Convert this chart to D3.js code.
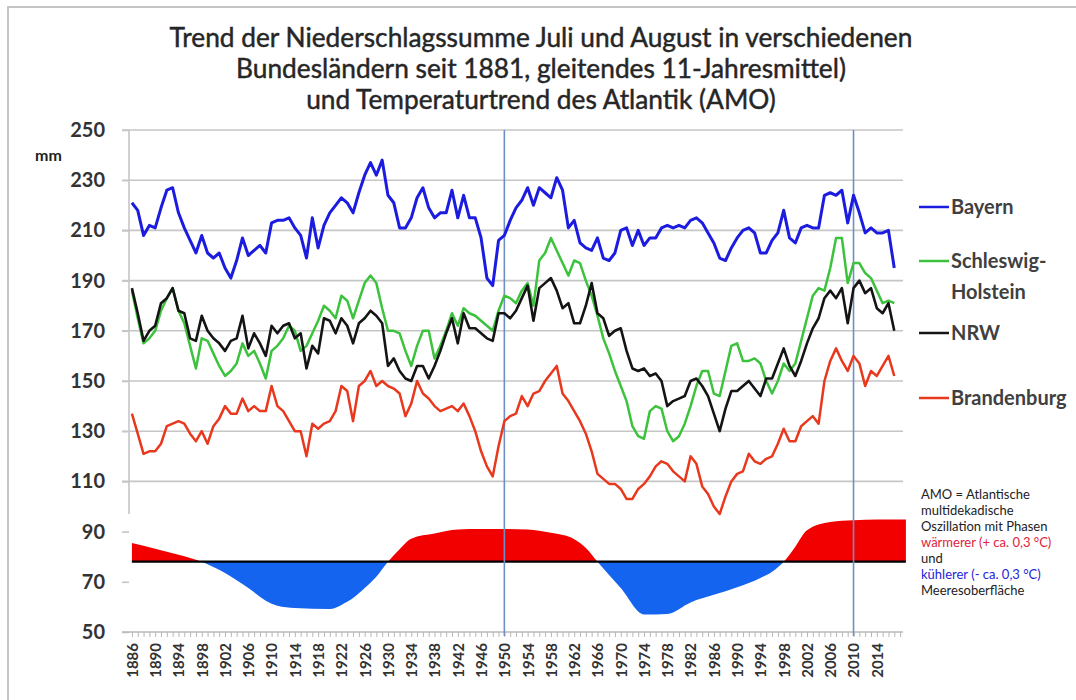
<!DOCTYPE html>
<html>
<head>
<meta charset="utf-8">
<script src="https://cdn.jsdelivr.net/npm/d3@7"></script>
<style>
  body { margin: 0; background: #fff; }
  svg { display: block; font-family: Lato, "Open Sans", sans-serif; }
</style>
</head>
<body>
<div id="container"></div>
<script>
/* ---------- DATA ---------- */
const years = d3.range(1886, 2018);

const bayern = [
  221, 218, 208, 212, 211, 219, 226, 227, 217, 211,
  206, 201, 208, 201, 199, 201, 195, 191, 198, 207,
  200, 202, 204, 201, 213, 214, 214, 215, 211, 208,
  199, 215, 203, 212, 217, 220, 223, 221, 217, 225,
  232, 237, 232, 238, 224, 221, 211, 211, 215, 223,
  227, 219, 215, 217, 217, 226, 215, 224, 215, 215,
  207, 191, 188, 206, 208, 214, 219, 222, 227, 220,
  227, 225, 223, 231, 226, 211, 214, 205, 203, 202,
  207, 199, 198, 201, 210, 211, 204, 210, 204, 207,
  207, 211, 212, 211, 212, 211, 214, 215, 213, 209,
  205, 199, 198, 203, 207, 210, 211, 209, 201, 201,
  206, 209, 218, 207, 205, 211, 212, 211, 211, 224,
  225, 224, 226, 213, 224, 217, 209, 211, 209, 209,
  210, 195
];

const schleswigHolstein = [
  186, 175, 165, 167, 170, 178, 183, 187, 178, 173,
  164, 155, 167, 166, 161, 156, 152, 154, 157, 165,
  160, 162, 157, 151, 162, 164, 167, 172, 170, 162,
  164, 169, 174, 180, 178, 175, 184, 182, 175, 182,
  189, 192, 189, 179, 170, 170, 169, 162, 156, 164,
  170, 170, 159, 164, 170, 177, 172, 179, 177, 176,
  174, 172, 170, 178, 184, 183, 181, 186, 189, 180,
  198, 201, 207, 202, 197, 192, 198, 197, 190, 184,
  176, 167, 161, 154, 148, 142, 132, 128, 127, 138,
  140, 139, 130, 126, 128, 133, 140, 148, 154, 154,
  145, 144, 154, 164, 165, 158, 158, 159, 157, 150,
  145, 150, 157, 154, 157, 166, 175, 184, 187, 186,
  195, 207, 207, 189, 197, 197, 193, 191, 186, 181,
  182, 181
];

const nrw = [
  187, 177, 166, 170, 172, 181, 183, 187, 178, 177,
  167, 166, 176, 170, 167, 165, 162, 166, 167, 176,
  163, 169, 165, 160, 172, 169, 172, 173, 167, 169,
  155, 164, 161, 175, 174, 169, 175, 172, 165, 173,
  175, 178, 176, 173, 156, 159, 154, 151, 150, 156,
  156, 151, 156, 162, 169, 175, 165, 177, 171, 171,
  169, 167, 166, 177, 177, 175, 178, 183, 188, 174,
  187, 189, 191, 186, 179, 181, 173, 173, 180, 189,
  177, 175, 168, 170, 171, 162, 155, 154, 155, 152,
  153, 150, 140, 142, 143, 144, 150, 151, 148, 144,
  137, 130, 139, 146, 146, 148, 150, 147, 144, 151,
  151, 157, 163, 156, 152, 158, 165, 171, 175, 183,
  186, 183, 187, 173, 187, 190, 185, 187, 179, 177,
  181, 170
];

const brandenburg = [
  137, 129, 121, 122, 122, 125, 132, 133, 134, 133,
  129, 126, 130, 125, 132, 135, 140, 137, 137, 143,
  138, 140, 138, 138, 148, 140, 138, 134, 130, 130,
  120, 133, 131, 133, 134, 138, 148, 146, 134, 148,
  150, 154, 148, 150, 148, 147, 145, 136, 141, 150,
  145, 143, 140, 138, 139, 140, 138, 141, 136, 130,
  122, 116, 112, 124, 134, 136, 137, 144, 140, 145,
  146, 150, 153, 156, 145, 142, 138, 134, 129, 122,
  113, 111, 109, 109, 107, 103, 103, 107, 109, 112,
  116, 118, 117, 114, 112, 110, 120, 117, 108, 105,
  100, 97, 104, 110, 113, 114, 121, 118, 117, 119,
  120, 125, 131, 126, 126, 132, 134, 136, 133, 150,
  158, 163, 158, 154, 160, 157, 148, 154, 152, 156,
  160, 152
];

// AMO phase curve (drawn around its own zero line)
const amoYears = [
  1886, 1890, 1894, 1898, 1902, 1906, 1909, 1911, 1914, 1920,
  1922, 1924, 1926, 1928, 1930, 1932, 1934, 1938, 1942, 1946,
  1950, 1954, 1958, 1962, 1964, 1966, 1970, 1974, 1978, 1982,
  1986, 1990, 1994, 1996, 1998, 2000, 2002, 2006, 2010, 2014, 2019
];
const amoValues = [
  85.5, 83.2, 80.8, 78, 73.5, 67.5, 62.5, 60.5, 59.6, 59.2,
  60.8, 63.5, 67.5, 72, 78, 83, 87.2, 89.2, 90.8, 91,
  91, 90.8, 89.5, 87, 83.5, 78, 67.5, 57, 57.2, 61.8,
  64.8, 67.8, 71.5, 74, 78, 84, 90.5, 93.8, 94.5, 94.8, 94.8
];
const amoBase = 78;

const markerYears = [1950, 2010];
const yTicks = d3.range(50, 251, 20);
const gridTicks = yTicks.filter(d => d >= 110);
const xLabelYears = d3.range(1886, 2015, 4);

const titleLines = [
  "Trend der Niederschlagssumme Juli und August in verschiedenen",
  "Bundesländern seit 1881, gleitendes 11-Jahresmittel)",
  "und Temperaturtrend des Atlantik (AMO)"
];

const amoNote = [
  ["AMO = Atlantische", "#222"],
  ["multidekadische", "#222"],
  ["Oszillation mit Phasen", "#222"],
  ["wärmerer (+ ca. 0,3 °C)", "#e0223a"],
  ["und", "#222"],
  ["kühlerer (- ca. 0,3 °C)", "#2424d8"],
  ["Meeresoberfläche", "#222"]
];

/* ---------- SETUP ---------- */
const width = 1076, height = 700;
const plot = { left: 129, right: 903, top: 130, bottom: 632 };

const series = [
  { name: ["Schleswig-", "Holstein"], values: schleswigHolstein, color: "#3cc23c", w: 2.5, ly: 261 },
  { name: ["NRW"], values: nrw, color: "#141414", w: 2.6, ly: 333 },
  { name: ["Brandenburg"], values: brandenburg, color: "#e8381e", w: 2.5, ly: 398 },
  { name: ["Bayern"], values: bayern, color: "#1c1ce0", w: 3, ly: 207 }
];

const xScale = d3.scaleLinear()
  .domain([1885.5, 2018.5])
  .range([plot.left, plot.right]);

const yScale = d3.scaleLinear()
  .domain([50, 250])
  .range([plot.bottom, plot.top]);

const svg = d3.select("#container")
  .append("svg")
  .attr("width", width)
  .attr("height", height);

// frame
svg.append("rect")
  .attr("x", 8).attr("y", 7)
  .attr("width", 1100).attr("height", 720)
  .attr("fill", "none")
  .attr("stroke", "#c4c4c4")
  .attr("stroke-width", 2);

/* ---------- TITLE ---------- */
const title = svg.append("g")
  .attr("fill", "#262626")
  .attr("stroke", "#262626")
  .attr("stroke-width", 0.45)
  .attr("text-anchor", "middle");

const titleText = title.selectAll("text")
  .data(titleLines)
  .join("text")
  .attr("x", 541)
  .attr("y", (d, i) => 47 + i * 31)
  .style("font-size", "24px")
  .text(d => d);

// fit first line to the reference width
const firstLen = titleText.node().getComputedTextLength();
titleText.style("font-size", (24 * 743 / firstLen).toFixed(2) + "px");

/* ---------- AMO AREA ---------- */
const amoData = amoYears.map((d, i) => ({ year: d, value: amoValues[i] }));

const amoArea = d3.area()
  .x(d => xScale(d.year))
  .y0(yScale(amoBase))
  .y1(d => yScale(d.value))
  .curve(d3.curveMonotoneX);

const defs = svg.append("defs");
defs.append("clipPath").attr("id", "clip-warm")
  .append("rect")
  .attr("x", 0).attr("y", 0)
  .attr("width", width).attr("height", yScale(amoBase));
defs.append("clipPath").attr("id", "clip-cool")
  .append("rect")
  .attr("x", 0).attr("y", yScale(amoBase))
  .attr("width", width).attr("height", height);

svg.append("path")
  .datum(amoData)
  .attr("d", amoArea)
  .attr("fill", "#f20000")
  .attr("clip-path", "url(#clip-warm)");

svg.append("path")
  .datum(amoData)
  .attr("d", amoArea)
  .attr("fill", "#1464f0")
  .attr("clip-path", "url(#clip-cool)");

svg.append("line")
  .attr("x1", xScale(amoYears[0]))
  .attr("x2", xScale(amoYears[amoYears.length - 1]))
  .attr("y1", yScale(amoBase))
  .attr("y2", yScale(amoBase))
  .attr("stroke", "#000")
  .attr("stroke-width", 2.2);

/* ---------- AXES ---------- */
// horizontal gridlines of the upper panel
svg.append("g")
  .selectAll("line")
  .data(gridTicks)
  .join("line")
  .attr("x1", plot.left - 7)
  .attr("x2", plot.right)
  .attr("y1", d => yScale(d))
  .attr("y2", d => yScale(d))
  .attr("stroke", "#c6c6c6")
  .attr("stroke-width", 1.6);

// left axis line of the upper panel
svg.append("line")
  .attr("x1", plot.left).attr("x2", plot.left)
  .attr("y1", yScale(250)).attr("y2", yScale(97))
  .attr("stroke", "#c6c6c6")
  .attr("stroke-width", 1.6);

const yAxis = d3.axisLeft(yScale)
  .tickValues(yTicks)
  .tickSize(7)
  .tickPadding(17);

svg.append("g")
  .attr("transform", `translate(${plot.left},0)`)
  .call(yAxis)
  .call(g => g.select(".domain").remove())
  .call(g => g.selectAll(".tick line").attr("stroke", "#c6c6c6").attr("stroke-width", 1.6))
  .call(g => g.selectAll(".tick text")
    .attr("fill", "#333")
    .style("font-size", "20px")
    .style("font-weight", "700")
    .style("font-family", "Lato, sans-serif"));

svg.append("text")
  .attr("x", 35).attr("y", 161)
  .attr("fill", "#222")
  .style("font-size", "16px")
  .style("font-weight", "700")
  .text("mm");

// bottom axis with one tick per year
const xAxis = d3.axisBottom(xScale)
  .tickValues(d3.range(1886, 2019))
  .tickSize(5)
  .tickSizeOuter(0)
  .tickFormat(d => xLabelYears.includes(d) ? d : "");

svg.append("g")
  .attr("transform", `translate(0,${plot.bottom})`)
  .call(xAxis)
  .call(g => g.select(".domain").attr("stroke", "#b8b8b8").attr("stroke-width", 1.6)
    .attr("d", `M${plot.left - 7},0H${plot.right}`))
  .call(g => g.selectAll(".tick line").attr("stroke", "#b8b8b8"))
  .call(g => g.selectAll(".tick text")
    .attr("transform", "rotate(-90)")
    .attr("text-anchor", "end")
    .attr("x", -11)
    .attr("y", 0)
    .attr("dy", "0.36em")
    .attr("fill", "#333")
    .style("font-size", "15px")
    .style("font-weight", "700")
    .style("font-family", "Lato, sans-serif"));

/* ---------- MARKER LINES ---------- */
svg.append("g")
  .selectAll("line")
  .data(markerYears)
  .join("line")
  .attr("x1", d => xScale(d))
  .attr("x2", d => xScale(d))
  .attr("y1", plot.top)
  .attr("y2", plot.bottom + 4)
  .attr("stroke", "#6f8fc4")
  .attr("stroke-width", 1.6);

/* ---------- SERIES ---------- */
const line = d3.line()
  .x((d, i) => xScale(years[i]))
  .y(d => yScale(d));

svg.append("g")
  .selectAll("path")
  .data(series)
  .join("path")
  .attr("d", d => line(d.values))
  .attr("fill", "none")
  .attr("stroke", d => d.color)
  .attr("stroke-width", d => d.w)
  .attr("stroke-linejoin", "round");

/* ---------- LEGEND ---------- */
const legend = svg.append("g")
  .selectAll("g")
  .data(series)
  .join("g")
  .attr("transform", d => `translate(919,${d.ly})`);

legend.append("line")
  .attr("x1", 0).attr("x2", 30)
  .attr("stroke", d => d.color)
  .attr("stroke-width", 2.5);

legend.append("text")
  .attr("fill", "#404040")
  .style("font-size", "20px")
  .style("font-weight", "700")
  .selectAll("tspan")
  .data(d => d.name)
  .join("tspan")
  .attr("x", 32)
  .attr("y", (d, i) => i * 31)
  .attr("dy", "0.35em")
  .text(d => d);

/* ---------- AMO NOTE ---------- */
svg.append("g")
  .selectAll("text")
  .data(amoNote)
  .join("text")
  .attr("x", 921)
  .attr("y", (d, i) => 499 + i * 16)
  .attr("fill", d => d[1])
  .style("font-size", "13px")
  .text(d => d[0]);
</script>
</body>
</html>
